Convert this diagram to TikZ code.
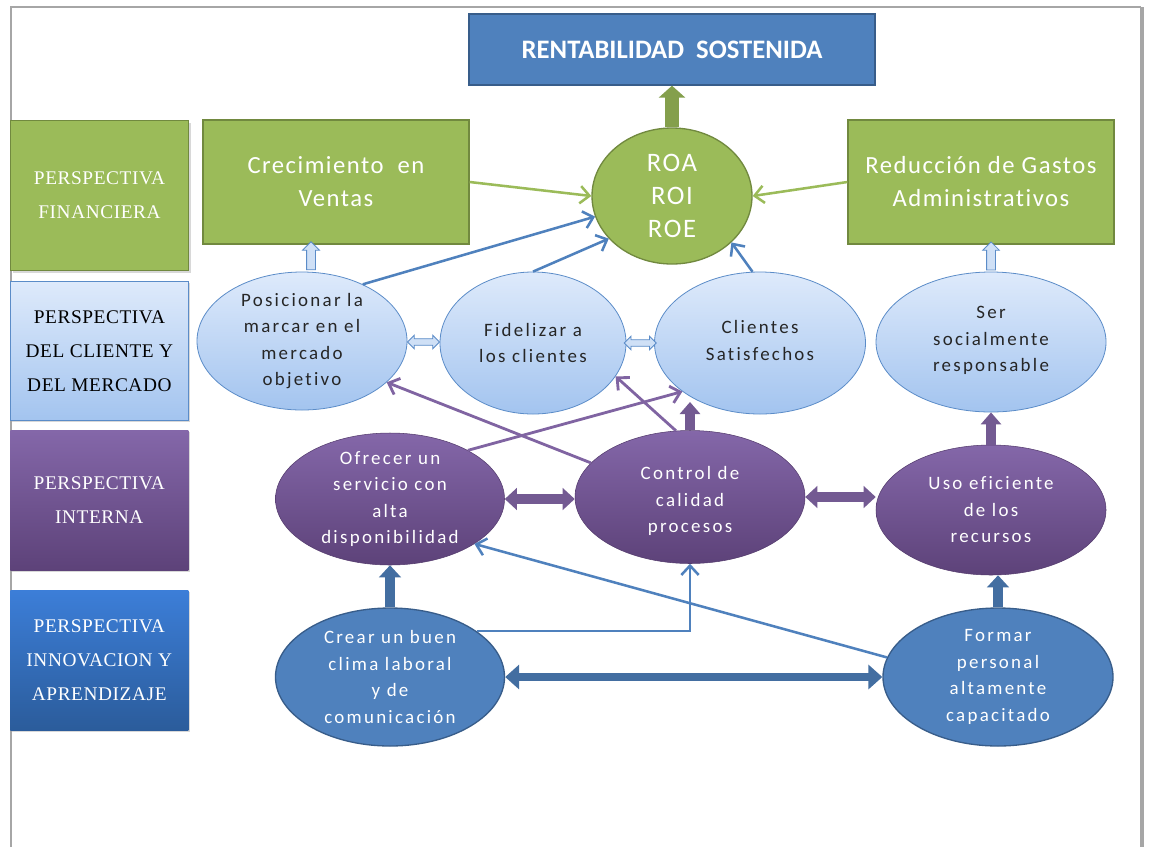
\documentclass[tikz,border=0pt]{standalone}
\usepackage{fontspec}
\setmainfont[Ligatures=NoCommon]{Carlito}
\newfontfamily\perspfont[LetterSpace=3]{Liberation Serif}
\newfontfamily\ellfont[LetterSpace=12,Ligatures=NoCommon]{Carlito}
\newfontfamily\boxfont[LetterSpace=6,Ligatures=NoCommon]{Carlito}
\usetikzlibrary{shapes.geometric,shapes.arrows,arrows.meta,calc,shadows}

\definecolor{accBlue}{HTML}{4F81BD}
\definecolor{accBlueDk}{HTML}{385D8A}
\definecolor{accGreen}{HTML}{9BBB59}
\definecolor{accGreenDk}{HTML}{71893F}
\definecolor{accPurple}{HTML}{8064A2}
\definecolor{purpTop}{HTML}{8467A9}
\definecolor{purpBot}{HTML}{5D4279}
\definecolor{lightTop}{HTML}{DEEAFB}
\definecolor{lightBot}{HTML}{A3C4EF}
\definecolor{lightEdge}{HTML}{5B8CC8}
\definecolor{lightArrow}{HTML}{CFE0F6}
\definecolor{innoTop}{HTML}{3C7ED8}
\definecolor{innoBot}{HTML}{2B5C9B}
\definecolor{frameGray}{HTML}{A6A6A6}

\tikzset{
  persbox/.style={rectangle, anchor=north west, minimum width=133.5pt,
    inner sep=0pt, align=center, font=\perspfont\fontsize{14.5}{25.5}\selectfont,
    drop shadow={shadow xshift=1.5pt, shadow yshift=-1.5pt, opacity=0.3}},
  greenbox/.style={rectangle, draw=accGreenDk, line width=1pt, fill=accGreen,
    minimum width=199.5pt, minimum height=93pt, align=center, text=white,
    font=\boxfont\fontsize{18.5}{24.75}\selectfont},
  lightell/.style={ellipse, draw=lightEdge, line width=0.6pt,
    top color=lightTop, bottom color=lightBot, inner sep=0pt},
  purpell/.style={ellipse, draw=purpBot!90!black, line width=0.4pt,
    top color=purpTop, bottom color=purpBot, inner sep=0pt},
  blueell/.style={ellipse, draw=accBlueDk, line width=1pt, fill=accBlue, inner sep=0pt},
  darktxt/.style={align=center, text=black!85, inner sep=0pt,
    font=\ellfont\fontsize{14.2}{19.9}\selectfont},
  whitetxt/.style={darktxt, text=white},
  thinblue/.style={draw=accBlue, line width=1.9pt,
    -{Straight Barb[length=7pt,width=13pt]}},
  thingreen/.style={thinblue, draw=accGreen},
  thinpurple/.style={thinblue, draw=accPurple, line width=2.1pt},
  upgreen/.style={draw=accGreen!85!black, line width=10.5pt,
    -{Triangle[length=9pt,width=19.5pt]}},
  uppurple/.style={draw=accPurple!90!black, line width=7.5pt,
    -{Triangle[length=9pt,width=15pt]}},
  dblpurple/.style={draw=accPurple!90!black, line width=7pt,
    {Triangle[length=9pt,width=16pt]}-{Triangle[length=9pt,width=16pt]}},
  upblue/.style={draw=accBlue!85!black, line width=7.5pt,
    -{Triangle[length=9pt,width=16pt]}},
  dblblue/.style={draw=accBlue!85!black, line width=6.5pt,
    {Triangle[length=10.5pt,width=18pt]}-{Triangle[length=10.5pt,width=18pt]}},
  lightup/.style={single arrow, draw=lightEdge, fill=lightArrow, line width=0.6pt,
    rotate=90, inner sep=3pt, single arrow head extend=3pt,
    single arrow head indent=0pt, minimum height=21pt},
  lightdbl/.style={double arrow, draw=lightEdge, fill=lightArrow, line width=0.6pt,
    inner sep=2.2pt, double arrow head extend=2.6pt,
    double arrow head indent=0pt, minimum height=24pt}
}

\begin{document}
\begin{tikzpicture}[x=0.75pt,y=-0.75pt]
\useasboundingbox (0,0) rectangle (1151,847);
\fill[white] (0,0) rectangle (1151,847);

% page frame
\draw[frameGray, line width=2.2pt] (11,847) -- (11,7) -- (1141,7);
\draw[frameGray, line width=3pt] (1142,7) -- (1142,847);

% perspective labels
\node[persbox, minimum height=112.5pt, fill=accGreen, draw=accGreenDk, line width=0.8pt,
  text=white] (pfin) at (10,120) {PERSPECTIVA\\FINANCIERA};
\node[persbox, minimum height=104.25pt, top color=lightTop, bottom color=lightBot,
  draw=lightEdge, line width=0.6pt, text=black] (pcli) at (10,281)
  {PERSPECTIVA\\DEL CLIENTE Y\\DEL MERCADO};
\node[persbox, minimum height=105pt, top color=purpTop, bottom color=purpBot,
  text=white] (pint) at (10,430) {PERSPECTIVA\\INTERNA};
\node[persbox, minimum height=105pt, top color=innoTop, bottom color=innoBot,
  text=white] (pinn) at (10,590) {PERSPECTIVA\\INNOVACION Y\\APRENDIZAJE};

% financial level
\node[rectangle, draw=accBlueDk, line width=1pt, fill=accBlue, minimum width=304.5pt,
  minimum height=53.25pt, text=white, font=\fontsize{20}{24}\selectfont\bfseries]
  (rent) at (672,49.5) {RENTABILIDAD\ \ SOSTENIDA};
\node[ellipse, draw=accGreenDk, line width=1pt, fill=accGreen, minimum width=120pt,
  minimum height=102pt, inner sep=0pt] (roa) at (672,196) {};
\node[align=center, text=white, inner sep=0pt, font=\boxfont\fontsize{20}{24.75}\selectfont]
  (roaT) at (roa) {ROA\\ROI\\ROE};
\node[greenbox] (crec) at (336,182) {Crecimiento\ \ en\\Ventas};
\node[greenbox] (red) at (981,182) {Reducción de Gastos\\Administrativos};

% customer level
\node[lightell, minimum width=157.5pt, minimum height=103.5pt] (pos) at (302,341) {};
\node[lightell, minimum width=139.5pt, minimum height=106.5pt] (fid) at (533,343) {};
\node[lightell, minimum width=158.25pt, minimum height=106.5pt] (cs) at (760,343) {};
\node[lightell, minimum width=172.5pt, minimum height=105pt] (ser) at (991,342) {};
\node[darktxt] (posT) at (pos) {Posicionar la\\marcar en el\\mercado\\objetivo};
\node[darktxt] (fidT) at (fid) {Fidelizar a\\los clientes};
\node[darktxt] (csT) at ([yshift=2pt]cs) {Clientes\\Satisfechos};
\node[darktxt] (serT) at ([yshift=1pt]ser) {Ser\\socialmente\\responsable};

% internal level
\node[purpell, minimum width=171.75pt, minimum height=99pt] (ofr) at (390,499) {};
\node[purpell, minimum width=172.5pt, minimum height=99.75pt] (ctrl) at (690,497) {};
\node[purpell, minimum width=172.5pt, minimum height=97.5pt] (uso) at (991,510) {};
\node[whitetxt] (ofrT) at (ofr) {Ofrecer un\\servicio con\\alta\\disponibilidad};
\node[whitetxt] (ctrlT) at ([yshift=-3pt]ctrl) {Control de\\calidad\\procesos};
\node[whitetxt] (usoT) at (uso) {Uso eficiente\\de los\\recursos};

% learning level
\node[blueell, minimum width=171.75pt, minimum height=103.5pt] (crear) at (390,677) {};
\node[blueell, minimum width=172.5pt, minimum height=103.5pt] (formar) at (998,677) {};
\node[whitetxt] (crearT) at (crear) {Crear un buen\\clima laboral\\y de\\comunicación};
\node[whitetxt] (formarT) at (formar) {Formar\\personal\\altamente\\capacitado};

% block arrows
\draw[upgreen] (roa.north) -- (rent.south);
\coordinate (csfoot) at (690,402);
\draw[uppurple] (ctrl.north) -- (csfoot);
\draw[uppurple] (uso.north) -- (ser.south);
\draw[dblpurple] (ofr.east) -- (ofr.east -| ctrl.west);
\draw[dblpurple] (ctrl.east) -- (ctrl.east -| uso.west);
\draw[upblue] (crear.north) -- (ofr.south);
\draw[upblue] (formar.north) -- (formar.north |- uso.south);
\draw[dblblue] (crear.east) -- (formar.west);

\node[lightup] (upcrec) at (311,258) {};
\node[lightup] (upred) at ($(ser.north)!0.5!(ser.north |- red.south)$) {};
\node[lightdbl] (posfid) at ($(pos.east)!0.5!(fid.west)$) {};
\node[lightdbl] (fidcs) at ($(fid.east)!0.5!(cs.west)$) {};

% line arrows
\draw[thingreen] (crec.east) -- (roa.west);
\draw[thingreen] (red.west) -- (roa.east);
\draw[thinblue] (pos.43) -- (roa.195);
\draw[thinblue] (fid.north) -- (roa.214);
\draw[thinblue] (cs.96) -- (roa.322);
\draw[thinpurple] (ctrl.161) -- (pos.334);
\draw[thinpurple] (ctrl.102) -- (fid.338);
\draw[thinpurple] (ofr.32) -- (cs.212);
\draw[thinblue] (crear.28) -| (ctrl.south);
\draw[thinblue] (formar.170) -- (ofr.332);
\end{tikzpicture}
\end{document}
